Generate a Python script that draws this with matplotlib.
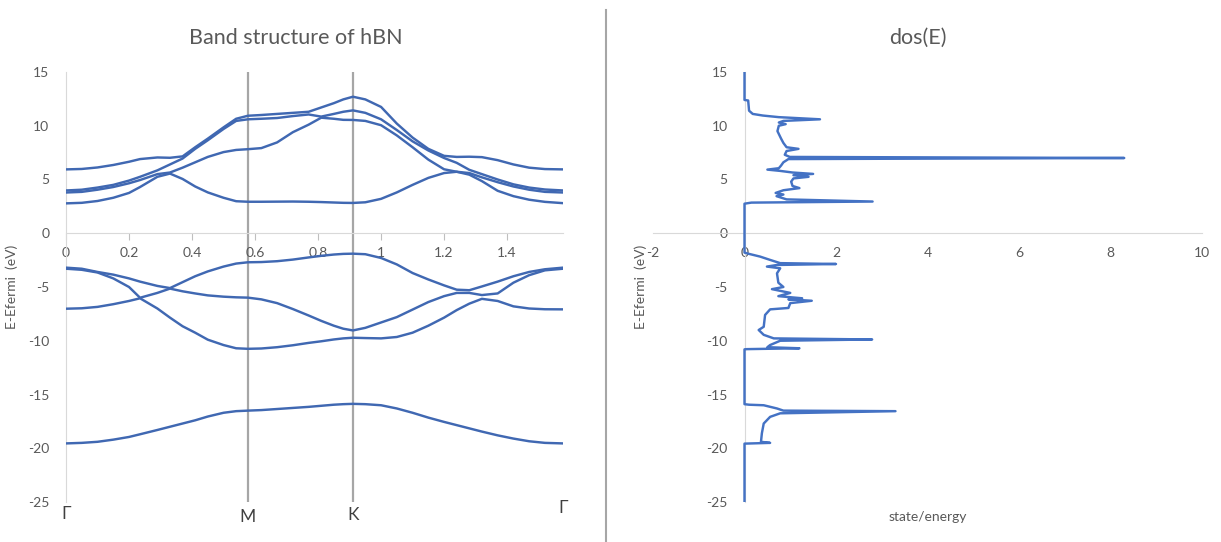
import matplotlib
matplotlib.use('Agg')
import matplotlib.pyplot as plt
import matplotlib.transforms as mtransforms
from matplotlib.lines import Line2D

plt.rcParams['font.family'] = ['Lato', 'DejaVu Sans']
plt.rcParams['axes.unicode_minus'] = False

# k-path G-M-K-G in units of 2pi/a
k_path = [0, 0.05, 0.10, 0.15, 0.20, 0.235, 0.29, 0.33, 0.37, 0.41, 0.45, 0.50, 0.54, 0.5774,
          0.62, 0.67, 0.72, 0.77, 0.81, 0.85, 0.88, 0.9107,
          0.95, 1.00, 1.05, 1.10, 1.15, 1.20, 1.24, 1.28, 1.32, 1.37, 1.42, 1.47, 1.52, 1.5774]
k_M = 0.5774
k_K = 0.9107
k_end = 1.5774

# conduction bands, sorted by energy (eV)
cb1 = [2.78, 2.83, 3.0, 3.3, 3.75, 4.3, 5.25, 5.55, 5.05, 4.35, 3.8, 3.3, 2.98, 2.93,
       2.93, 2.94, 2.95, 2.93, 2.9, 2.86, 2.83, 2.82,
       2.88, 3.2, 3.8, 4.5, 5.15, 5.6, 5.72, 5.45, 4.85, 3.95, 3.45, 3.12, 2.92, 2.8]
cb2 = [3.79, 3.85, 4.05, 4.3, 4.65, 4.95, 5.5, 5.65, 6.1, 6.6, 7.1, 7.55, 7.75, 7.82,
       7.92, 8.45, 9.4, 10.1, 10.75, 10.65, 10.55, 10.54,
       10.45, 10.05, 9.1, 8.0, 6.85, 5.95, 5.72, 5.6, 5.2, 4.75, 4.35, 4.05, 3.85, 3.79]
cb3 = [3.98, 4.05, 4.25, 4.5, 4.9, 5.25, 5.85, 6.4, 6.95, 7.85, 8.65, 9.7, 10.45, 10.6,
       10.65, 10.72, 10.9, 11.05, 10.85, 11.1, 11.3, 11.43,
       11.2, 10.6, 9.6, 8.55, 7.7, 7.0, 6.55, 5.9, 5.5, 5.0, 4.55, 4.25, 4.07, 3.98]
cb4 = [5.94, 5.98, 6.12, 6.35, 6.65, 6.9, 7.05, 7.02, 7.15, 8.0, 8.8, 9.85, 10.65, 10.93,
       11.0, 11.1, 11.2, 11.3, 11.7, 12.1, 12.45, 12.7,
       12.45, 11.75, 10.2, 8.9, 7.85, 7.2, 7.1, 7.12, 7.08, 6.8, 6.4, 6.1, 5.97, 5.94]

# valence bands, sorted by energy (eV)
vb1 = [-3.2, -3.3, -3.6, -3.85, -4.2, -4.5, -4.9, -5.1, -4.55, -4.0, -3.55, -3.1, -2.82, -2.7,
       -2.68, -2.6, -2.45, -2.25, -2.1, -1.98, -1.92, -1.9,
       -1.95, -2.3, -2.9, -3.7, -4.3, -4.85, -5.25, -5.3, -4.95, -4.5, -4.0, -3.6, -3.35, -3.2]
vb2 = [-3.3, -3.4, -3.65, -4.2, -5.0, -6.0, -5.55, -5.15, -5.4, -5.6, -5.78, -5.9, -5.96, -5.99,
       -6.15, -6.5, -7.05, -7.65, -8.15, -8.6, -8.88, -9.04,
       -8.8, -8.3, -7.8, -7.1, -6.4, -5.85, -5.55, -5.55, -5.75, -5.6, -4.6, -3.9, -3.45, -3.3]
vb3 = [-7.02, -6.98, -6.85, -6.6, -6.3, -6.05, -7.0, -7.85, -8.65, -9.25, -9.9, -10.4, -10.7, -10.75,
       -10.72, -10.6, -10.42, -10.2, -10.05, -9.88, -9.78, -9.72,
       -9.75, -9.78, -9.65, -9.25, -8.6, -7.85, -7.15, -6.55, -6.1, -6.3, -6.8, -7.0, -7.07, -7.08]
vb0 = [-19.55, -19.5, -19.4, -19.2, -18.95, -18.7, -18.3, -18.0, -17.7, -17.4, -17.05, -16.7, -16.55, -16.5,
       -16.45, -16.35, -16.25, -16.15, -16.05, -15.95, -15.9, -15.87,
       -15.9, -16.0, -16.3, -16.7, -17.15, -17.55, -17.85, -18.15, -18.45, -18.8, -19.1, -19.35, -19.5, -19.55]

bands = [vb0, vb1, vb2, vb3, cb1, cb2, cb3, cb4]

# density of states
dos_energy = [15, 12.4, 12.35, 11.4, 11.1, 10.95, 10.8, 10.6, 10.45, 10.3, 10.15, 10.0, 9.5, 8.8,
              8.4, 8.0, 7.85, 7.65, 7.3, 7.1, 7.0, 6.9, 6.6, 6.3, 6.05, 5.92, 5.8, 5.65, 5.52,
              5.4, 5.25, 5.1, 4.8, 4.4, 4.2, 4.0, 3.75, 3.6, 3.45, 3.15, 2.95, 2.85, 2.75,
              -1.8, -1.9, -2.17, -2.48, -2.78, -2.86, -2.95, -3.1, -3.26, -3.73, -4.6, -5.0,
              -5.2, -5.55, -5.85, -6.05, -6.15, -6.28, -6.5, -6.95, -7.08, -7.6, -8.7, -9.0,
              -9.45, -9.78, -9.88, -10.0, -10.4, -10.6, -10.7, -10.78, -10.8,
              -15.9, -15.95, -16.0, -16.3, -16.5, -16.55, -16.75, -17.08, -17.7, -18.6,
              -19.4, -19.5, -19.57, -25]
dos_value = [0, 0, 0.08, 0.1, 0.18, 0.4, 0.75, 1.65, 0.85, 0.75, 0.9, 0.75, 0.72, 0.8,
             0.85, 0.92, 1.18, 0.92, 0.88, 0.99, 8.3, 0.96, 0.85, 0.8, 0.75, 0.5, 0.78, 1.05, 1.5,
             1.07, 1.4, 1.07, 1.02, 1.05, 1.2, 0.85, 0.68, 0.85, 0.7, 0.92, 2.8, 0.15, 0,
             0, 0.08, 0.34, 0.56, 0.78, 2.0, 0.71, 0.49, 0.78, 0.71, 0.74, 0.85,
             0.6, 1.0, 0.74, 1.26, 0.96, 1.47, 1.0, 0.96, 0.56, 0.45, 0.42, 0.31,
             0.42, 0.64, 2.79, 0.78, 0.56, 0.5, 1.2, 0.05, 0,
             0, 0.1, 0.42, 0.71, 0.85, 3.3, 0.78, 0.56, 0.42, 0.38,
             0.36, 0.56, 0, 0]

band_ticks = [0, 0.2, 0.4, 0.6, 0.8, 1.0, 1.2, 1.4]
band_ticklabels = ['0', '0.2', '0.4', '0.6', '0.8', '1', '1.2', '1.4']
energy_ticks = [-25, -20, -15, -10, -5, 0, 5, 10, 15]
dos_ticks = [-2, 0, 2, 4, 6, 8, 10]

TEXT = '#595959'
AXIS = '#d9d9d9'
W, H = 1221, 542

fig = plt.figure(figsize=(W / 100, H / 100), dpi=100)

# ---- band structure ----
ax1 = fig.add_axes([66 / W, 40 / H, 497 / W, 430 / H])
for kx in (k_M, k_K):
    ax1.axvline(kx, color='#a6a6a6', lw=1.6, zorder=1)
for b in bands:
    ax1.plot(k_path, b, color='#4068b2', lw=1.75, zorder=3)
ax1.set_xlim(0, k_end)
ax1.set_ylim(-25, 15)
ax1.set_xticks(band_ticks)
ax1.set_xticklabels(band_ticklabels)
ax1.set_yticks(energy_ticks)
for s in ('top', 'right'):
    ax1.spines[s].set_visible(False)
ax1.spines['left'].set_color(AXIS)
ax1.spines['bottom'].set_color(AXIS)
ax1.spines['bottom'].set_position(('data', 0))
ax1.tick_params(axis='x', direction='out', length=5, width=0.8, color='#bfbfbf',
                pad=5, labelsize=10, labelcolor=TEXT)
ax1.tick_params(axis='y', length=0, pad=12, labelsize=10, labelcolor=TEXT)

# high-symmetry point labels
tr = mtransforms.blended_transform_factory(ax1.transData, fig.transFigure)
for kx, name, yp in [(0, 'Γ', 514), (k_M, 'M', 517), (k_K, 'K', 515), (k_end, 'Γ', 508)]:
    ax1.text(kx, 1 - yp / H, name, transform=tr, ha='center', va='center',
             fontsize=12.5, color='#404040')

# ---- density of states ----
ax2 = fig.add_axes([653 / W, 40 / H, 549 / W, 430 / H])
ax2.plot(dos_value, dos_energy, color='#4472c4', lw=1.75, zorder=3)
ax2.set_xlim(-2, 10)
ax2.set_ylim(-25, 15)
ax2.set_xticks(dos_ticks)
ax2.set_yticks(energy_ticks)
for s in ('top', 'right'):
    ax2.spines[s].set_visible(False)
ax2.spines['left'].set_position(('data', 0))
ax2.spines['bottom'].set_position(('data', 0))
ax2.spines['left'].set_color(AXIS)
ax2.spines['bottom'].set_color(AXIS)
ax2.tick_params(axis='x', length=0, pad=10, labelsize=10, labelcolor=TEXT)
ax2.tick_params(axis='y', length=0, pad=12, labelsize=10, labelcolor=TEXT)

# titles and axis labels
fig.text(296 / W, 1 - 38 / H, 'Band structure of hBN', ha='center', va='center',
         fontsize=15.5, color=TEXT)
fig.text(918 / W, 1 - 38 / H, 'dos(E)', ha='center', va='center',
         fontsize=15.5, color=TEXT)
fig.text(12 / W, 1 - 287 / H, 'E-Efermi  (eV)', rotation=90, ha='center', va='center',
         fontsize=10, color=TEXT)
fig.text(641 / W, 1 - 287 / H, 'E-Efermi  (eV)', rotation=90, ha='center', va='center',
         fontsize=10, color=TEXT)
fig.text(928 / W, 1 - 517 / H, 'state/energy', ha='center', va='center',
         fontsize=10, color=TEXT)

# divider between the two charts
fig.add_artist(Line2D([606 / W, 606 / W], [0, 1 - 10 / H], transform=fig.transFigure,
                      color='#a6a6a6', lw=1.5))

fig.savefig('out.png', dpi=100)
